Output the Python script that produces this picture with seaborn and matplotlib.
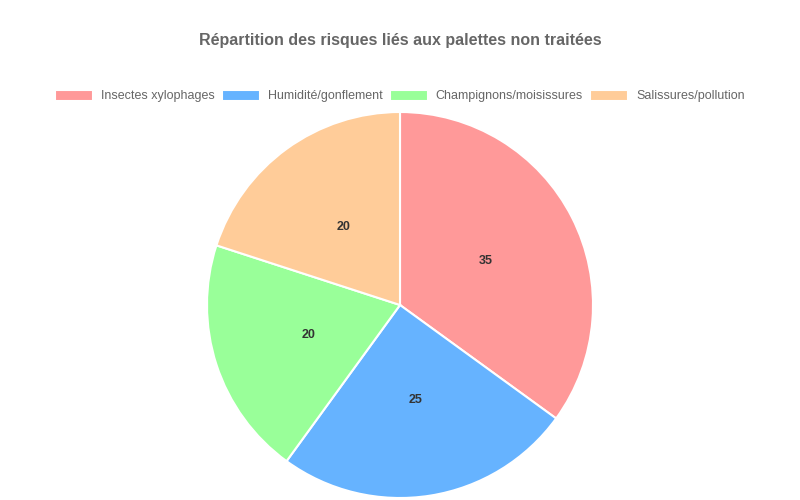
import matplotlib
matplotlib.use("Agg")
import matplotlib.pyplot as plt
import seaborn as sns

# data
categories = ["Insectes xylophages", "Humidité/gonflement", "Champignons/moisissures", "Salissures/pollution"]
values = [35, 25, 20, 20]
colors = ["#FF9999", "#66B3FF", "#99FF99", "#FFCC99"]

sns.set_theme(style="white")
plt.rcParams["font.family"] = ["Liberation Sans", "DejaVu Sans"]

palette = sns.color_palette(colors)

fig = plt.figure(figsize=(8, 5), dpi=100)
ax = fig.add_axes([0.25875, 0.004, 0.4825, 0.772])

wedges, texts, autotexts = ax.pie(
    values,
    colors=palette,
    startangle=90,
    counterclock=False,
    autopct=lambda p: f"{p * sum(values) / 100:.0f}",
    pctdistance=0.5,
    wedgeprops=dict(edgecolor="white", linewidth=1.5),
    textprops=dict(color="#333333", fontsize=9, fontweight="bold"),
)
ax.set_aspect("equal")
ax.set_xlim(-1, 1)
ax.set_ylim(-1, 1)

fig.text(0.5, 0.92, "Répartition des risques liés aux palettes non traitées",
         ha="center", va="center", fontsize=11.5, fontweight="bold", color="#666666")

fig.legend(wedges, categories, loc="center", bbox_to_anchor=(0.5, 0.808), ncol=4,
           frameon=False, fontsize=9, labelcolor="#666666",
           handlelength=3.0, handleheight=1.0, handletextpad=0.65, columnspacing=0.6)

fig.savefig("out.png", dpi=100)
